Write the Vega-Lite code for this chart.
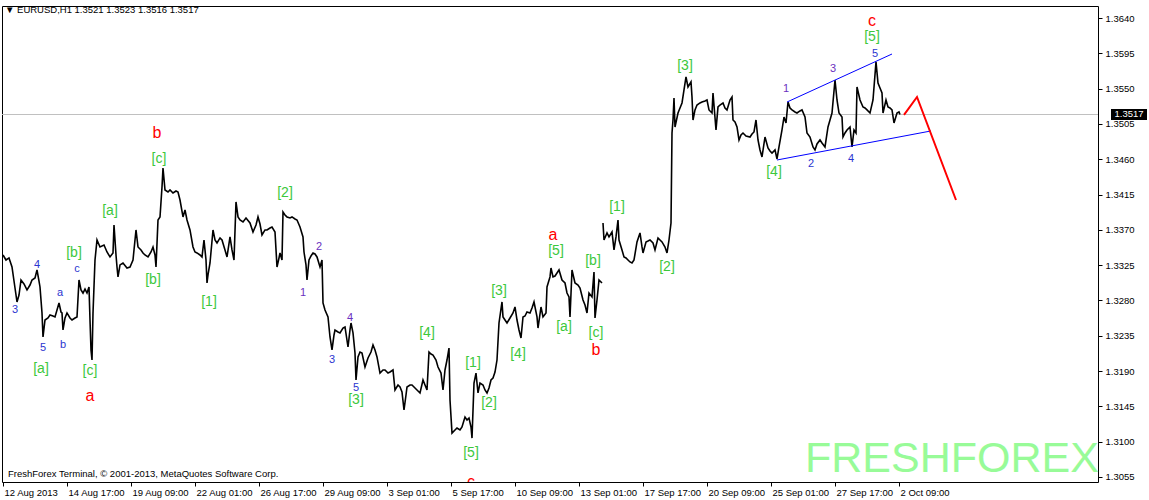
{
"$schema":"https://vega.github.io/schema/vega-lite/v6.json",
"width":1096,"height":476,"autosize":"none",
"padding":{"left":2,"top":6,"right":51,"bottom":18},
"background":"white",
"config":{"view":{"stroke":"black","strokeWidth":1},"font":"Liberation Sans"},
"datasets":{
"price":[
{"i":3,"p":1.33379,"s":0},{"i":6,"p":1.33315,"s":0},{"i":9,"p":1.33341,"s":0},{"i":12,"p":1.33226,"s":0},{"i":15,"p":1.32958,"s":0},{"i":17,"p":1.3278,"s":0},{"i":19,"p":1.32869,"s":0},{"i":21,"p":1.3306,"s":0},{"i":24,"p":1.33009,"s":0},{"i":27,"p":1.32933,"s":0},{"i":30,"p":1.32996,"s":0},{"i":32,"p":1.3306,"s":0},{"i":35,"p":1.33086,"s":0},{"i":37,"p":1.33188,"s":0},{"i":39,"p":1.33047,"s":0},{"i":40,"p":1.32971,"s":0},{"i":42,"p":1.3264,"s":0},{"i":43,"p":1.32334,"s":0},{"i":45,"p":1.3255,"s":0},{"i":48,"p":1.32576,"s":0},{"i":50,"p":1.32614,"s":0},{"i":53,"p":1.32601,"s":0},{"i":55,"p":1.32589,"s":0},{"i":57,"p":1.32678,"s":0},{"i":59,"p":1.32767,"s":0},{"i":61,"p":1.32652,"s":0},{"i":62,"p":1.3264,"s":0},{"i":63,"p":1.32423,"s":0},{"i":65,"p":1.32576,"s":0},{"i":67,"p":1.3264,"s":0},{"i":70,"p":1.32576,"s":0},{"i":72,"p":1.3255,"s":0},{"i":75,"p":1.32576,"s":0},{"i":77,"p":1.32589,"s":0},{"i":79,"p":1.3306,"s":0},{"i":81,"p":1.32933,"s":0},{"i":83,"p":1.32894,"s":0},{"i":85,"p":1.32945,"s":0},{"i":87,"p":1.32894,"s":0},{"i":89,"p":1.32971,"s":0},{"i":90,"p":1.3255,"s":0},{"i":91,"p":1.32168,"s":0},{"i":92,"p":1.3204,"s":0},{"i":93,"p":1.3264,"s":0},{"i":95,"p":1.33315,"s":0},{"i":97,"p":1.3357,"s":0},{"i":100,"p":1.33481,"s":0},{"i":104,"p":1.33506,"s":0},{"i":107,"p":1.33417,"s":0},{"i":110,"p":1.33354,"s":0},{"i":113,"p":1.33405,"s":0},{"i":114,"p":1.33762,"s":0},{"i":116,"p":1.33379,"s":0},{"i":117,"p":1.33226,"s":0},{"i":118,"p":1.33099,"s":0},{"i":120,"p":1.33252,"s":0},{"i":123,"p":1.33277,"s":0},{"i":127,"p":1.33213,"s":0},{"i":130,"p":1.33226,"s":0},{"i":133,"p":1.33315,"s":0},{"i":136,"p":1.33698,"s":0},{"i":138,"p":1.33481,"s":0},{"i":141,"p":1.33443,"s":0},{"i":143,"p":1.33405,"s":0},{"i":145,"p":1.33379,"s":0},{"i":148,"p":1.33354,"s":0},{"i":151,"p":1.33417,"s":0},{"i":153,"p":1.33481,"s":0},{"i":155,"p":1.33379,"s":0},{"i":156,"p":1.33226,"s":0},{"i":158,"p":1.33825,"s":0},{"i":160,"p":1.33864,"s":0},{"i":162,"p":1.34246,"s":0},{"i":163,"p":1.34488,"s":0},{"i":165,"p":1.34208,"s":0},{"i":168,"p":1.34182,"s":0},{"i":170,"p":1.34208,"s":0},{"i":173,"p":1.34169,"s":0},{"i":176,"p":1.34195,"s":0},{"i":178,"p":1.34182,"s":0},{"i":180,"p":1.3408,"s":0},{"i":183,"p":1.33864,"s":0},{"i":185,"p":1.33953,"s":0},{"i":187,"p":1.33825,"s":0},{"i":190,"p":1.33698,"s":0},{"i":193,"p":1.33481,"s":0},{"i":195,"p":1.33417,"s":0},{"i":197,"p":1.33405,"s":0},{"i":200,"p":1.33379,"s":0},{"i":202,"p":1.33354,"s":0},{"i":204,"p":1.3357,"s":0},{"i":206,"p":1.33315,"s":0},{"i":207,"p":1.33022,"s":0},{"i":208,"p":1.33124,"s":0},{"i":210,"p":1.33277,"s":0},{"i":213,"p":1.33698,"s":0},{"i":215,"p":1.3357,"s":0},{"i":217,"p":1.33532,"s":0},{"i":220,"p":1.33596,"s":0},{"i":222,"p":1.3357,"s":0},{"i":225,"p":1.33443,"s":0},{"i":227,"p":1.33354,"s":0},{"i":230,"p":1.33609,"s":0},{"i":232,"p":1.33443,"s":0},{"i":234,"p":1.33315,"s":0},{"i":236,"p":1.34055,"s":0},{"i":238,"p":1.33864,"s":0},{"i":240,"p":1.33825,"s":0},{"i":243,"p":1.338,"s":0},{"i":246,"p":1.33851,"s":0},{"i":250,"p":1.33787,"s":0},{"i":253,"p":1.33672,"s":0},{"i":256,"p":1.33762,"s":0},{"i":258,"p":1.33864,"s":0},{"i":260,"p":1.33774,"s":0},{"i":262,"p":1.33634,"s":0},{"i":265,"p":1.33698,"s":0},{"i":267,"p":1.33698,"s":0},{"i":270,"p":1.33723,"s":0},{"i":272,"p":1.33736,"s":0},{"i":275,"p":1.33672,"s":0},{"i":277,"p":1.33226,"s":0},{"i":279,"p":1.33341,"s":0},{"i":280,"p":1.33405,"s":0},{"i":282,"p":1.33315,"s":0},{"i":283,"p":1.33927,"s":0},{"i":285,"p":1.33889,"s":0},{"i":287,"p":1.33864,"s":0},{"i":290,"p":1.33851,"s":0},{"i":292,"p":1.33864,"s":0},{"i":295,"p":1.33838,"s":0},{"i":297,"p":1.33825,"s":0},{"i":300,"p":1.33736,"s":0},{"i":303,"p":1.33609,"s":0},{"i":304,"p":1.33417,"s":0},{"i":306,"p":1.33252,"s":0},{"i":307,"p":1.3306,"s":0},{"i":309,"p":1.33315,"s":0},{"i":311,"p":1.33366,"s":0},{"i":313,"p":1.33405,"s":0},{"i":315,"p":1.33392,"s":0},{"i":317,"p":1.33354,"s":0},{"i":320,"p":1.33226,"s":0},{"i":322,"p":1.33315,"s":0},{"i":323,"p":1.32767,"s":0},{"i":325,"p":1.32678,"s":0},{"i":328,"p":1.32589,"s":0},{"i":330,"p":1.32334,"s":0},{"i":332,"p":1.32168,"s":0},{"i":334,"p":1.32359,"s":0},{"i":335,"p":1.32423,"s":0},{"i":338,"p":1.32397,"s":0},{"i":340,"p":1.32385,"s":0},{"i":343,"p":1.32448,"s":0},{"i":345,"p":1.32461,"s":0},{"i":348,"p":1.32206,"s":0},{"i":350,"p":1.32423,"s":0},{"i":351,"p":1.32512,"s":0},{"i":353,"p":1.32385,"s":0},{"i":355,"p":1.3213,"s":0},{"i":356,"p":1.31785,"s":0},{"i":358,"p":1.32079,"s":0},{"i":360,"p":1.32142,"s":0},{"i":362,"p":1.3213,"s":0},{"i":365,"p":1.31951,"s":0},{"i":368,"p":1.32066,"s":0},{"i":371,"p":1.32142,"s":0},{"i":373,"p":1.32232,"s":0},{"i":375,"p":1.32168,"s":0},{"i":377,"p":1.32079,"s":0},{"i":380,"p":1.31874,"s":0},{"i":383,"p":1.31913,"s":0},{"i":385,"p":1.31913,"s":0},{"i":388,"p":1.31874,"s":0},{"i":390,"p":1.31887,"s":0},{"i":393,"p":1.31913,"s":0},{"i":395,"p":1.31658,"s":0},{"i":398,"p":1.31721,"s":0},{"i":400,"p":1.31696,"s":0},{"i":402,"p":1.31632,"s":0},{"i":404,"p":1.31403,"s":0},{"i":406,"p":1.31594,"s":0},{"i":407,"p":1.31696,"s":0},{"i":410,"p":1.31721,"s":0},{"i":412,"p":1.31721,"s":0},{"i":415,"p":1.31683,"s":0},{"i":417,"p":1.31658,"s":0},{"i":420,"p":1.3162,"s":0},{"i":423,"p":1.31785,"s":0},{"i":425,"p":1.31721,"s":0},{"i":427,"p":1.31658,"s":0},{"i":429,"p":1.32142,"s":0},{"i":431,"p":1.32117,"s":0},{"i":433,"p":1.32104,"s":0},{"i":436,"p":1.3204,"s":0},{"i":438,"p":1.31951,"s":0},{"i":441,"p":1.31874,"s":0},{"i":443,"p":1.31658,"s":0},{"i":445,"p":1.31913,"s":0},{"i":447,"p":1.3204,"s":0},{"i":449,"p":1.32193,"s":0},{"i":450,"p":1.3153,"s":0},{"i":452,"p":1.31109,"s":0},{"i":455,"p":1.31148,"s":0},{"i":457,"p":1.31173,"s":0},{"i":460,"p":1.31148,"s":0},{"i":462,"p":1.31186,"s":0},{"i":465,"p":1.31313,"s":0},{"i":467,"p":1.31275,"s":0},{"i":469,"p":1.31301,"s":0},{"i":471,"p":1.31186,"s":0},{"i":472,"p":1.31045,"s":0},{"i":474,"p":1.31747,"s":0},{"i":476,"p":1.31874,"s":0},{"i":478,"p":1.3162,"s":0},{"i":480,"p":1.31747,"s":0},{"i":483,"p":1.31721,"s":0},{"i":485,"p":1.31658,"s":0},{"i":487,"p":1.3162,"s":0},{"i":489,"p":1.31683,"s":0},{"i":491,"p":1.31785,"s":0},{"i":493,"p":1.3181,"s":0},{"i":495,"p":1.31887,"s":0},{"i":497,"p":1.3204,"s":0},{"i":499,"p":1.32512,"s":0},{"i":502,"p":1.3278,"s":0},{"i":503,"p":1.32589,"s":0},{"i":505,"p":1.3255,"s":0},{"i":507,"p":1.32512,"s":0},{"i":510,"p":1.32576,"s":0},{"i":513,"p":1.3264,"s":0},{"i":515,"p":1.32716,"s":0},{"i":517,"p":1.3255,"s":0},{"i":519,"p":1.32423,"s":0},{"i":521,"p":1.32321,"s":0},{"i":523,"p":1.32589,"s":0},{"i":525,"p":1.32601,"s":0},{"i":527,"p":1.32652,"s":0},{"i":530,"p":1.3264,"s":0},{"i":532,"p":1.32703,"s":0},{"i":534,"p":1.3278,"s":0},{"i":537,"p":1.32589,"s":0},{"i":538,"p":1.32448,"s":0},{"i":541,"p":1.32716,"s":0},{"i":543,"p":1.32589,"s":0},{"i":546,"p":1.3264,"s":0},{"i":547,"p":1.32971,"s":0},{"i":550,"p":1.33099,"s":0},{"i":551,"p":1.33213,"s":0},{"i":553,"p":1.33099,"s":0},{"i":555,"p":1.33111,"s":0},{"i":557,"p":1.3315,"s":0},{"i":559,"p":1.33188,"s":0},{"i":562,"p":1.3306,"s":0},{"i":565,"p":1.33022,"s":0},{"i":567,"p":1.32894,"s":0},{"i":569,"p":1.32844,"s":0},{"i":570,"p":1.32589,"s":0},{"i":572,"p":1.33188,"s":0},{"i":575,"p":1.33022,"s":0},{"i":578,"p":1.32996,"s":0},{"i":580,"p":1.32958,"s":0},{"i":583,"p":1.32805,"s":0},{"i":585,"p":1.32742,"s":0},{"i":587,"p":1.3264,"s":0},{"i":589,"p":1.32894,"s":0},{"i":592,"p":1.32844,"s":0},{"i":594,"p":1.33162,"s":0},{"i":595,"p":1.32576,"s":0},{"i":597,"p":1.32805,"s":0},{"i":599,"p":1.3306,"s":0},{"i":602,"p":1.33022,"s":0},
{"i":603,"p":1.33787,"s":1},{"i":604,"p":1.3357,"s":1},{"i":607,"p":1.3366,"s":1},{"i":609,"p":1.33609,"s":1},{"i":612,"p":1.33672,"s":1},{"i":614,"p":1.33443,"s":1},{"i":616,"p":1.33609,"s":1},{"i":618,"p":1.33825,"s":1},{"i":619,"p":1.3357,"s":1},{"i":622,"p":1.33443,"s":1},{"i":624,"p":1.33354,"s":1},{"i":626,"p":1.33341,"s":1},{"i":628,"p":1.33315,"s":1},{"i":630,"p":1.3329,"s":1},{"i":632,"p":1.33277,"s":1},{"i":634,"p":1.33315,"s":1},{"i":637,"p":1.33545,"s":1},{"i":640,"p":1.3366,"s":1},{"i":642,"p":1.33481,"s":1},{"i":643,"p":1.33405,"s":1},{"i":646,"p":1.33545,"s":1},{"i":648,"p":1.33557,"s":1},{"i":650,"p":1.3357,"s":1},{"i":653,"p":1.33532,"s":1},{"i":655,"p":1.33443,"s":1},{"i":658,"p":1.33596,"s":1},{"i":660,"p":1.3357,"s":1},{"i":662,"p":1.33545,"s":1},{"i":665,"p":1.33481,"s":1},{"i":667,"p":1.33405,"s":1},{"i":669,"p":1.3357,"s":1},{"i":671,"p":1.33787,"s":1},{"i":672,"p":1.34934,"s":1},{"i":673,"p":1.351,"s":1},{"i":674,"p":1.35381,"s":1},{"i":675,"p":1.35011,"s":1},{"i":678,"p":1.35189,"s":1},{"i":680,"p":1.35253,"s":1},{"i":682,"p":1.35317,"s":1},{"i":684,"p":1.35483,"s":1},{"i":686,"p":1.35648,"s":1},{"i":688,"p":1.35521,"s":1},{"i":691,"p":1.35585,"s":1},{"i":692,"p":1.35393,"s":1},{"i":693,"p":1.351,"s":1},{"i":695,"p":1.35228,"s":1},{"i":697,"p":1.35291,"s":1},{"i":700,"p":1.35317,"s":1},{"i":702,"p":1.35329,"s":1},{"i":705,"p":1.35342,"s":1},{"i":707,"p":1.35355,"s":1},{"i":709,"p":1.35228,"s":1},{"i":712,"p":1.35189,"s":1},{"i":713,"p":1.35444,"s":1},{"i":716,"p":1.34973,"s":1},{"i":718,"p":1.35266,"s":1},{"i":720,"p":1.35291,"s":1},{"i":723,"p":1.35317,"s":1},{"i":725,"p":1.35253,"s":1},{"i":727,"p":1.35228,"s":1},{"i":730,"p":1.35355,"s":1},{"i":732,"p":1.35393,"s":1},{"i":733,"p":1.351,"s":1},{"i":735,"p":1.35075,"s":1},{"i":737,"p":1.35011,"s":1},{"i":739,"p":1.34845,"s":1},{"i":741,"p":1.34909,"s":1},{"i":743,"p":1.34934,"s":1},{"i":746,"p":1.34896,"s":1},{"i":750,"p":1.34883,"s":1},{"i":752,"p":1.34922,"s":1},{"i":754,"p":1.34947,"s":1},{"i":756,"p":1.351,"s":1},{"i":758,"p":1.34845,"s":1},{"i":760,"p":1.34718,"s":1},{"i":762,"p":1.34628,"s":1},{"i":765,"p":1.34883,"s":1},{"i":768,"p":1.34743,"s":1},{"i":770,"p":1.34705,"s":1},{"i":772,"p":1.34679,"s":1},{"i":775,"p":1.34718,"s":1},{"i":777,"p":1.34603,"s":1},{"i":779,"p":1.34756,"s":1},{"i":782,"p":1.34973,"s":1},{"i":784,"p":1.35138,"s":1},{"i":786,"p":1.35062,"s":1},{"i":788,"p":1.35329,"s":1},{"i":790,"p":1.35253,"s":1},{"i":792,"p":1.35228,"s":1},{"i":795,"p":1.35202,"s":1},{"i":797,"p":1.35189,"s":1},{"i":800,"p":1.35215,"s":1},{"i":802,"p":1.35228,"s":1},{"i":805,"p":1.35138,"s":1},{"i":807,"p":1.34934,"s":1},{"i":810,"p":1.34883,"s":1},{"i":813,"p":1.34756,"s":1},{"i":815,"p":1.34718,"s":1},{"i":817,"p":1.34794,"s":1},{"i":820,"p":1.34845,"s":1},{"i":822,"p":1.34807,"s":1},{"i":825,"p":1.34756,"s":1},{"i":828,"p":1.35011,"s":1},{"i":830,"p":1.351,"s":1},{"i":832,"p":1.35189,"s":1},{"i":835,"p":1.3561,"s":1},{"i":837,"p":1.35355,"s":1},{"i":839,"p":1.35189,"s":1},{"i":842,"p":1.35138,"s":1},{"i":843,"p":1.34883,"s":1},{"i":845,"p":1.34934,"s":1},{"i":847,"p":1.34973,"s":1},{"i":850,"p":1.35011,"s":1},{"i":852,"p":1.34756,"s":1},{"i":854,"p":1.34973,"s":1},{"i":856,"p":1.34934,"s":1},{"i":857,"p":1.35521,"s":1},{"i":860,"p":1.35355,"s":1},{"i":863,"p":1.35266,"s":1},{"i":865,"p":1.35253,"s":1},{"i":867,"p":1.35228,"s":1},{"i":870,"p":1.35189,"s":1},{"i":873,"p":1.35355,"s":1},{"i":876,"p":1.3584,"s":1},{"i":878,"p":1.35572,"s":1},{"i":880,"p":1.35508,"s":1},{"i":882,"p":1.35444,"s":1},{"i":883,"p":1.35189,"s":1},{"i":886,"p":1.35355,"s":1},{"i":888,"p":1.35266,"s":1},{"i":890,"p":1.35253,"s":1},{"i":892,"p":1.35228,"s":1},{"i":894,"p":1.35062,"s":1},{"i":897,"p":1.35189,"s":1},{"i":899,"p":1.35202,"s":1},{"i":900,"p":1.3517,"s":1}
],
"trend":[
{"i":787,"p":1.35329,"g":"up"},{"i":892,"p":1.35941,"g":"up"},
{"i":777,"p":1.3459,"g":"down"},{"i":931,"p":1.3496,"g":"down"}
],
"forecast":[
{"i":904,"p":1.35164},{"i":917,"p":1.35393},{"i":956,"p":1.3408}
],
"current":[
{"i":2,"p":1.3517},{"i":1098,"p":1.3517}
],
"labels":[
{"i":157,"p":1.34934,"t":"b","k":"red"},
{"i":90,"p":1.31581,"t":"a","k":"red"},
{"i":553,"p":1.33634,"t":"a","k":"red"},
{"i":596,"p":1.32168,"t":"b","k":"red"},
{"i":872,"p":1.36362,"t":"c","k":"red"},
{"i":471,"p":1.30491,"t":"c","k":"red"},
{"i":41,"p":1.31925,"t":"[a]","k":"green"},
{"i":74,"p":1.33405,"t":"[b]","k":"green"},
{"i":90,"p":1.319,"t":"[c]","k":"green"},
{"i":110,"p":1.3394,"t":"[a]","k":"green"},
{"i":153,"p":1.3306,"t":"[b]","k":"green"},
{"i":159,"p":1.34603,"t":"[c]","k":"green"},
{"i":209,"p":1.3278,"t":"[1]","k":"green"},
{"i":285,"p":1.34169,"t":"[2]","k":"green"},
{"i":356,"p":1.3153,"t":"[3]","k":"green"},
{"i":427,"p":1.32385,"t":"[4]","k":"green"},
{"i":473,"p":1.32002,"t":"[1]","k":"green"},
{"i":489,"p":1.31492,"t":"[2]","k":"green"},
{"i":471,"p":1.30854,"t":"[5]","k":"green"},
{"i":499,"p":1.3292,"t":"[3]","k":"green"},
{"i":518,"p":1.32117,"t":"[4]","k":"green"},
{"i":556,"p":1.3343,"t":"[5]","k":"green"},
{"i":564,"p":1.32461,"t":"[a]","k":"green"},
{"i":593,"p":1.33302,"t":"[b]","k":"green"},
{"i":596,"p":1.32385,"t":"[c]","k":"green"},
{"i":617,"p":1.3399,"t":"[1]","k":"green"},
{"i":667,"p":1.33226,"t":"[2]","k":"green"},
{"i":685,"p":1.35789,"t":"[3]","k":"green"},
{"i":774,"p":1.34437,"t":"[4]","k":"green"},
{"i":872,"p":1.36158,"t":"[5]","k":"green"},
{"i":15,"p":1.32678,"t":"3","k":"blue"},
{"i":37,"p":1.33252,"t":"4","k":"blue"},
{"i":43,"p":1.32193,"t":"5","k":"blue"},
{"i":60,"p":1.32894,"t":"a","k":"blue"},
{"i":63,"p":1.32232,"t":"b","k":"blue"},
{"i":77,"p":1.33201,"t":"c","k":"blue"},
{"i":303,"p":1.32894,"t":"1","k":"purple"},
{"i":319,"p":1.33481,"t":"2","k":"purple"},
{"i":332,"p":1.3204,"t":"3","k":"blue"},
{"i":350,"p":1.32576,"t":"4","k":"purple"},
{"i":356,"p":1.31683,"t":"5","k":"blue"},
{"i":786,"p":1.35495,"t":"1","k":"purple"},
{"i":811,"p":1.34539,"t":"2","k":"blue"},
{"i":833,"p":1.3575,"t":"3","k":"purple"},
{"i":851,"p":1.34603,"t":"4","k":"blue"},
{"i":875,"p":1.35941,"t":"5","k":"blue"}
],
"notes":[
{"i":5,"p":1.36503,"t":"▼ EURUSD,H1  1.3521 1.3523 1.3516 1.3517"},
{"i":8,"p":1.30586,"t":"FreshForex Terminal, © 2001-2013, MetaQuotes Software Corp."}
],
"mark":[
{"i":805,"p":1.30612,"t":"FRESHFOREX"}
],
"box":[
{"i":1129,"p":1.3517,"t":"1.3517"}
]
},
"encoding":{
"x":{"field":"i","type":"quantitative","scale":{"domain":[2,1098],"nice":false,"zero":false},
"axis":{"title":null,"grid":false,"domain":false,"values":[3,67,131,195,259,323,387,451,515,579,643,707,771,835,899],
"labelExpr":"['12 Aug 2013','14 Aug 17:00','19 Aug 09:00','22 Aug 01:00','26 Aug 17:00','29 Aug 09:00','3 Sep 01:00','5 Sep 17:00','10 Sep 09:00','13 Sep 01:00','17 Sep 17:00','20 Sep 09:00','25 Sep 01:00','27 Sep 17:00','2 Oct 09:00'][round((datum.value-3)/64)]",
"labelAlign":"left","labelBaseline":"top","labelOffset":1,"labelPadding":1,"labelFlush":false,"labelOverlap":false,
"tickSize":4,"tickColor":"black","labelColor":"black","labelFont":"Liberation Sans","labelFontSize":9.5}},
"y":{"field":"p","type":"quantitative","scale":{"domain":[1.30485,1.36553],"nice":false,"zero":false},
"axis":{"orient":"right","title":null,"grid":false,"domain":false,
"values":[1.3055,1.31,1.3145,1.319,1.3235,1.328,1.3325,1.337,1.3415,1.346,1.3505,1.355,1.3595,1.364],
"format":".4f","tickSize":4,"tickColor":"black","labelColor":"black","labelPadding":3,"labelFont":"Liberation Sans","labelFontSize":9.5}}
},
"layer":[
{"data":{"name":"current"},"mark":{"type":"line","color":"#c0c0c0","strokeWidth":1},"encoding":{}},
{"data":{"name":"mark"},"mark":{"type":"text","align":"left","baseline":"alphabetic","fontSize":43,"font":"Liberation Sans","color":"#98FB98"},"encoding":{"text":{"field":"t"}}},
{"data":{"name":"price"},"mark":{"type":"line","color":"black","strokeWidth":1.6},"encoding":{"detail":{"field":"s"}}},
{"data":{"name":"trend"},"mark":{"type":"line","color":"#0000FF","strokeWidth":1},"encoding":{"detail":{"field":"g"}}},
{"data":{"name":"forecast"},"mark":{"type":"line","color":"#FF0000","strokeWidth":2},"encoding":{}},
{"data":{"name":"labels"},"mark":{"type":"text","align":"center","baseline":"middle","font":"Liberation Sans","clip":true},
"encoding":{"text":{"field":"t"},
"color":{"field":"k","type":"nominal","legend":null,"scale":{"domain":["red","green","blue","purple"],"range":["#FF0000","#3CC83C","#2B35D0","#6A30C0"]}},
"size":{"field":"k","type":"nominal","legend":null,"scale":{"type":"ordinal","domain":["red","green","blue","purple"],"range":[16,14,11,11]}}}},
{"data":{"name":"notes"},"mark":{"type":"text","align":"left","baseline":"middle","font":"Liberation Sans","fontSize":9.5,"color":"black"},"encoding":{"text":{"field":"t"}}},
{"data":{"name":"box"},"mark":{"type":"point","shape":"M-1,-0.3056H1V0.3056H-1Z","filled":true,"color":"black","opacity":1,"size":1296},"encoding":{}},
{"data":{"name":"box"},"mark":{"type":"text","align":"center","baseline":"middle","font":"Liberation Sans","fontSize":9.5,"color":"white"},"encoding":{"text":{"field":"t"}}}
]
}
